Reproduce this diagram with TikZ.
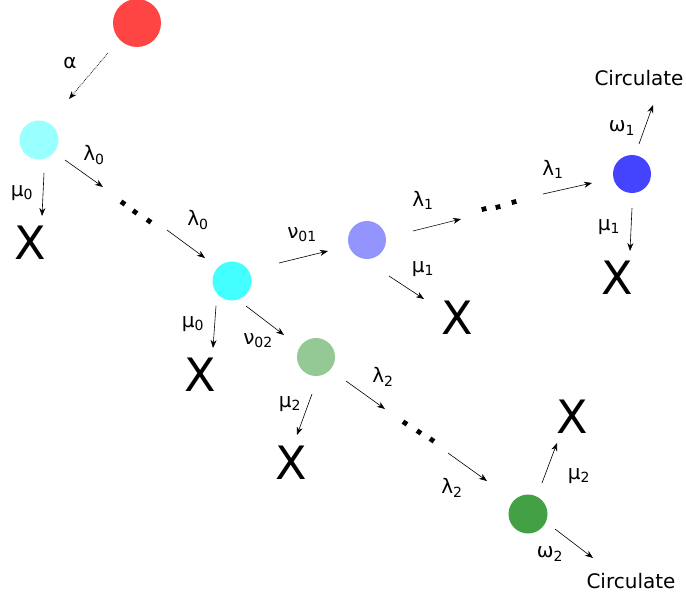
\documentclass[tikz,border=0pt]{standalone}
\usepackage{fontspec}
\setmainfont{DejaVu Sans}
\usetikzlibrary{arrows.meta}
\definecolor{cred}{HTML}{FF4444}
\definecolor{clcyan}{HTML}{99FFFF}
\definecolor{ccyan}{HTML}{44FFFF}
\definecolor{cpurple}{HTML}{9494FF}
\definecolor{cblue}{HTML}{4444FF}
\definecolor{clgreen}{HTML}{94C894}
\definecolor{cgreen}{HTML}{44A044}
\begin{document}
\begin{tikzpicture}[x=1pt,y=-1pt,
  state/.style={circle,inner sep=0pt,minimum size=39pt},
  lbl/.style={inner sep=0pt,font=\fontsize{20}{22}\selectfont},
  bigx/.style={inner sep=0pt,font=\fontsize{46}{50}\selectfont},
  arr/.style={line width=0.6pt,-{Stealth[length=8pt,width=6pt]}},
  dotarr/.style={line width=0.7pt,dash pattern=on 0.8pt off 1pt,-{Stealth[length=8pt,width=6pt]}},
  sq/.style={fill=black,inner sep=0pt,minimum size=4.8pt}]
\useasboundingbox (0,0) rectangle (686,597);
% states
\node[state,fill=cred,minimum size=48pt] (red) at (137,23) {};
\node[state,fill=clcyan] (c0) at (39,140) {};
\node[state,fill=ccyan] (c1) at (232,281) {};
\node[state,fill=cpurple,minimum size=38pt] (p1) at (367,240) {};
\node[state,fill=cblue,minimum size=38pt] (b1) at (632,174) {};
\node[state,fill=clgreen,minimum size=38pt] (g1) at (316,357) {};
\node[state,fill=cgreen] (g2) at (528,514) {};
% X nodes
\node[bigx] (x0) at (30,243) {X};
\node[bigx] (x1) at (200,375) {X};
\node[bigx] (x2) at (457,318) {X};
\node[bigx] (x3) at (617,278) {X};
\node[bigx] (x4) at (291,463) {X};
\node[bigx] (x5) at (572,417) {X};
% circulate
\node[lbl] (circ1) at (639,78) {Circulate};
\node[lbl] (circ2) at (631,581) {Circulate};
% dots
\node[sq,rotate=-35] (d0a) at (123,203) {};
\node[sq,rotate=-35] (d0b) at (135,212) {};
\node[sq,rotate=-35] (d0c) at (149,221) {};
\node[sq,rotate=13] (d1a) at (484,209) {};
\node[sq,rotate=13] (d1b) at (498,207) {};
\node[sq,rotate=13] (d1c) at (514,202) {};
\node[sq,rotate=-33] (d2a) at (405,423) {};
\node[sq,rotate=-33] (d2b) at (419,432) {};
\node[sq,rotate=-33] (d2c) at (432,440) {};
% arrow end points
\coordinate (a1s) at (108,53);  \coordinate (a1e) at (69,99);
\coordinate (a2s) at (44,173);  \coordinate (a2e) at (42,216);
\coordinate (a3s) at (65,160);  \coordinate (a3e) at (103,187);
\coordinate (a4s) at (167,230); \coordinate (a4e) at (205,258);
\coordinate (a5s) at (216,306); \coordinate (a5e) at (213,348);
\coordinate (a6s) at (279,263); \coordinate (a6e) at (328,251);
\coordinate (a7s) at (246,306); \coordinate (a7e) at (284,335);
\coordinate (a8s) at (389,276); \coordinate (a8e) at (424,299);
\coordinate (a9s) at (413,231); \coordinate (a9e) at (461,219);
\coordinate (a10s) at (543,194); \coordinate (a10e) at (592,183);
\coordinate (a11s) at (632,208); \coordinate (a11e) at (630,251);
\coordinate (a12s) at (639,144); \coordinate (a12e) at (653,105);
\coordinate (a13s) at (312,394); \coordinate (a13e) at (297,435);
\coordinate (a14s) at (346,381); \coordinate (a14e) at (385,409);
\coordinate (a15s) at (448,453); \coordinate (a15e) at (487,481);
\coordinate (a16s) at (542,483); \coordinate (a16e) at (557,443);
\coordinate (a17s) at (555,529); \coordinate (a17e) at (593,558);
% arrows
\draw[dotarr] (a1s) -- (a1e);
\draw[arr] (a2s) -- (a2e);
\draw[arr] (a3s) -- (a3e);
\draw[arr] (a4s) -- (a4e);
\draw[arr] (a5s) -- (a5e);
\draw[arr] (a6s) -- (a6e);
\draw[arr] (a7s) -- (a7e);
\draw[arr] (a8s) -- (a8e);
\draw[arr] (a9s) -- (a9e);
\draw[arr] (a10s) -- (a10e);
\draw[arr] (a11s) -- (a11e);
\draw[arr] (a12s) -- (a12e);
\draw[arr] (a13s) -- (a13e);
\draw[arr] (a14s) -- (a14e);
\draw[arr] (a15s) -- (a15e);
\draw[arr] (a16s) -- (a16e);
\draw[arr] (a17s) -- (a17e);
% labels
\node[lbl] (la) at (70,63) {α};
\node[lbl] (lmu0a) at (22,193) {μ\textsubscript{0}};
\node[lbl] (llam0a) at (94,155) {λ\textsubscript{0}};
\node[lbl] (llam0b) at (198,220) {λ\textsubscript{0}};
\node[lbl] (lmu0b) at (193,324) {μ\textsubscript{0}};
\node[lbl] (lnu01) at (302,235) {ν\textsubscript{01}};
\node[lbl] (lnu02) at (258,341) {ν\textsubscript{02}};
\node[lbl] (llam1a) at (423,200) {λ\textsubscript{1}};
\node[lbl] (lmu1a) at (423,269) {μ\textsubscript{1}};
\node[lbl] (llam1b) at (553,169) {λ\textsubscript{1}};
\node[lbl] (lmu1b) at (609,227) {μ\textsubscript{1}};
\node[lbl] (lom1) at (622,128) {ω\textsubscript{1}};
\node[lbl] (lmu2a) at (290,404) {μ\textsubscript{2}};
\node[lbl] (llam2a) at (383,377) {λ\textsubscript{2}};
\node[lbl] (llam2b) at (452,488) {λ\textsubscript{2}};
\node[lbl] (lmu2b) at (579,476) {μ\textsubscript{2}};
\node[lbl] (lom2) at (550,554) {ω\textsubscript{2}};
\end{tikzpicture}
\end{document}
